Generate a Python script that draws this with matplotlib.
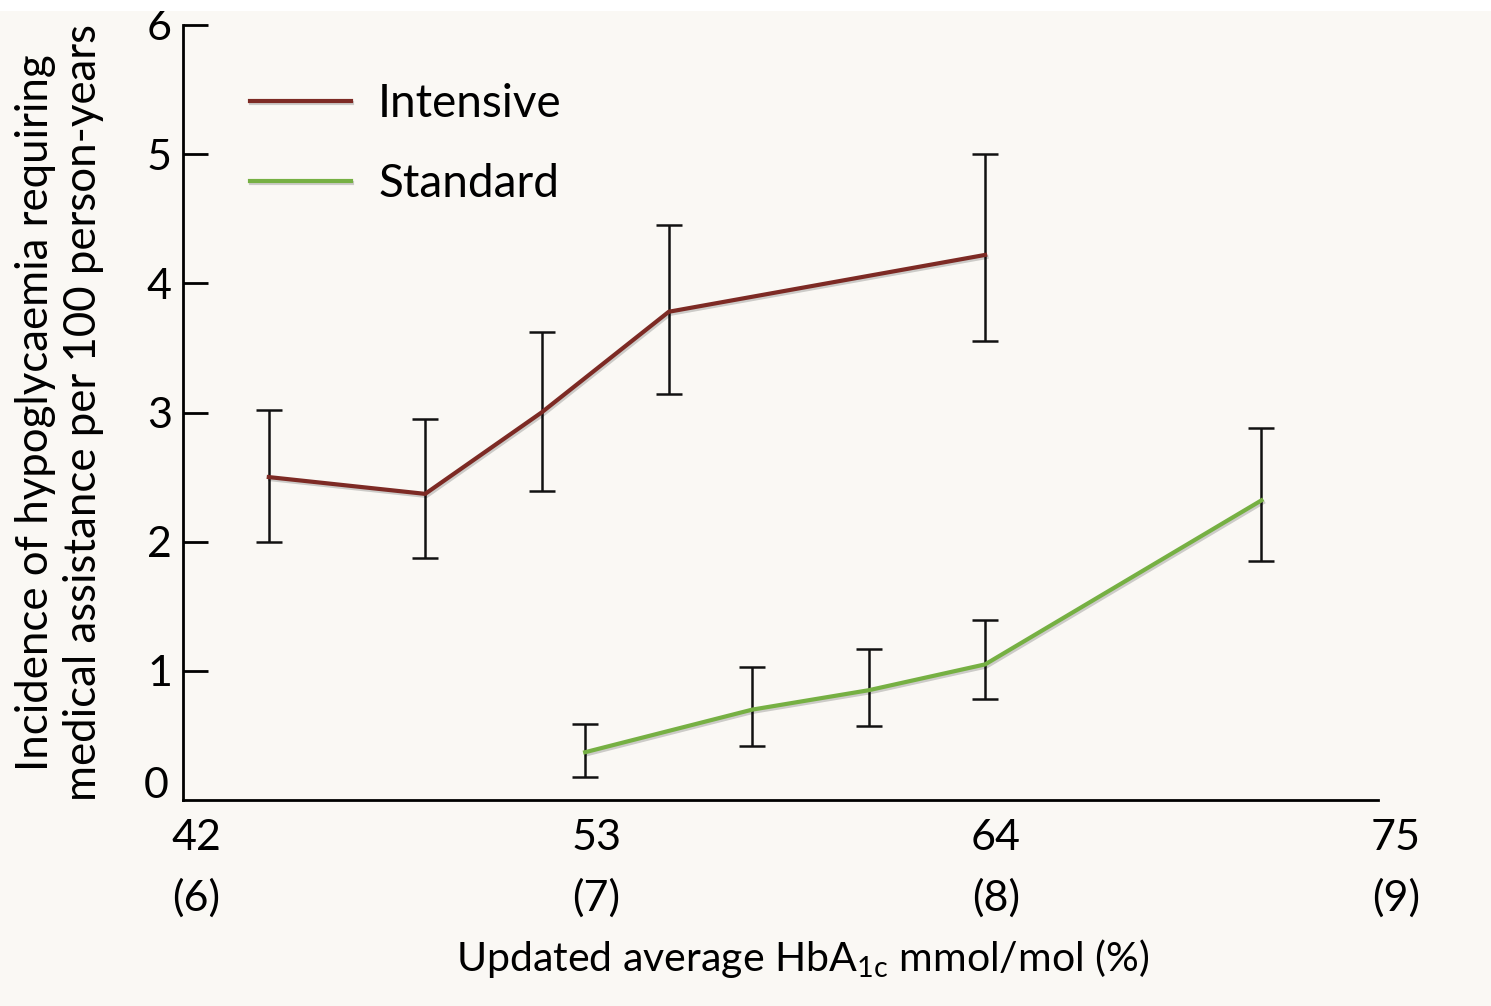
import matplotlib.pyplot as plt
import matplotlib.patheffects as pe
from matplotlib.patches import Rectangle
import numpy as np

plt.rcParams['font.family'] = ['Lato', 'DejaVu Sans']

# Intensive arm
int_x = [44.0, 48.3, 51.5, 55.0, 63.7]
int_y = [2.50, 2.37, 3.00, 3.78, 4.22]
int_lo = [2.00, 1.87, 2.39, 3.14, 3.55]
int_hi = [3.02, 2.95, 3.62, 4.45, 5.00]

# Standard arm
std_x = [52.7, 57.3, 60.5, 63.7, 71.3]
std_y = [0.37, 0.70, 0.85, 1.05, 2.32]
std_lo = [0.18, 0.42, 0.57, 0.78, 1.85]
std_hi = [0.59, 1.03, 1.17, 1.39, 2.88]

xticks = [42, 53, 64, 75]
xticklabels = ['42\n(6)', '53\n(7)', '64\n(8)', '75\n(9)']
yticks = [0, 1, 2, 3, 4, 5, 6]

bg = '#faf8f4'
fig = plt.figure(figsize=(14.91, 10.06), dpi=100, facecolor=bg)
# thin white strip along the top edge
fig.patches.append(Rectangle((0, 1 - 11/1006), 1, 11/1006, transform=fig.transFigure,
                             facecolor='white', edgecolor='none', zorder=0))
ax = fig.add_axes([183/1491, 1 - 800/1006, (1396-183)/1491, (800-25)/1006])
ax.set_facecolor('none')

shadow = [pe.SimpleLineShadow(offset=(1, -1.5), alpha=0.18), pe.Normal()]

for xs, ys, lo, hi in [(int_x, int_y, int_lo, int_hi), (std_x, std_y, std_lo, std_hi)]:
    ys = np.array(ys)
    err = [ys - np.array(lo), np.array(hi) - ys]
    ax.errorbar(xs, ys, yerr=err, fmt='none', ecolor='#111111', elinewidth=1.8,
                capsize=9.5, capthick=1.8, zorder=2)

ax.plot(int_x, int_y, color='#7d2a24', lw=3, label='Intensive', zorder=3,
        path_effects=shadow)
ax.plot(std_x, std_y, color='#76b043', lw=3, label='Standard', zorder=3,
        path_effects=shadow)

ax.set_xlim(41.64, 75)
ax.set_ylim(0, 6)
ax.spines['top'].set_visible(False)
ax.spines['right'].set_visible(False)
ax.spines['bottom'].set_bounds(41.64, 74.5)
ax.spines['left'].set_linewidth(2)
ax.spines['bottom'].set_linewidth(2)

ax.set_yticks(yticks[1:])
ax.set_yticklabels([str(v) for v in yticks[1:]])
ax.tick_params(axis='y', direction='in', length=18, width=2, pad=8, labelsize=31)
ax.text(-0.012, 0.018, '0', transform=ax.transAxes, ha='right', va='center', fontsize=31)

ax.set_xticks(xticks)
ax.set_xticklabels(xticklabels, linespacing=1.65)
ax.tick_params(axis='x', length=0, pad=14, labelsize=31)

ax.set_xlabel('Updated average HbA$_{\\mathregular{1c}}$ mmol/mol (%)', fontsize=29.5)
ax.xaxis.set_label_coords(0.511, -0.177)
ax.set_ylabel('Incidence of hypoglycaemia requiring\nmedical assistance per 100 person-years',
              fontsize=31.5, linespacing=1.2, labelpad=31)

leg = ax.legend(loc='upper left', bbox_to_anchor=(0.055, 0.925), frameon=False,
                borderpad=0, borderaxespad=0,
                fontsize=33, handlelength=2.2, handletextpad=0.6, labelspacing=0.82)

fig.savefig('out.png', dpi=100, facecolor=bg)
